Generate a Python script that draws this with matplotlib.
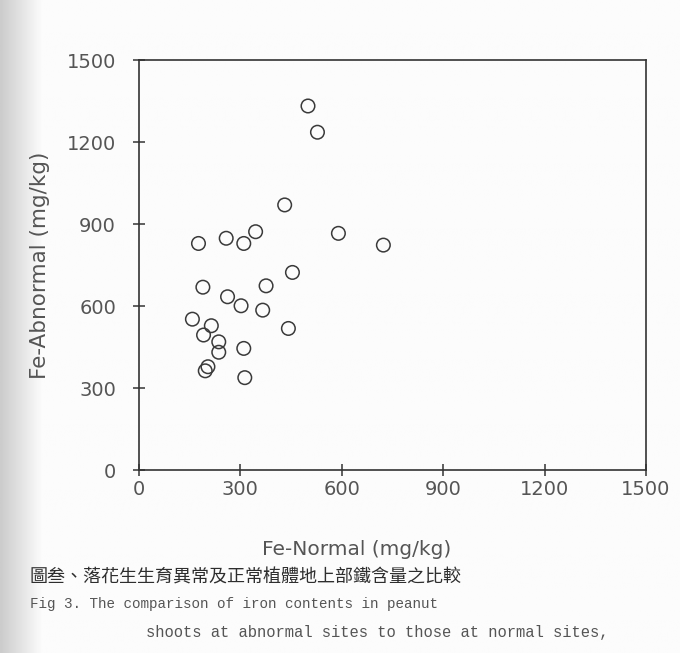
import numpy as np
import matplotlib
matplotlib.use("Agg")
import matplotlib.pyplot as plt

# Fe content of peanut shoots (mg/kg)
fe_normal = [500, 528, 431, 345, 590, 176, 258, 310, 723, 454, 189, 376, 262,
             302, 366, 158, 214, 191, 442, 236, 236, 310, 204, 196, 313]
fe_abnormal = [1332, 1236, 970, 872, 866, 829, 848, 829, 823, 723, 669, 674, 634,
               601, 585, 552, 528, 494, 518, 469, 431, 445, 378, 363, 338]

ticks = [0, 300, 600, 900, 1200, 1500]

caption_zh = "圖叁、落花生生育異常及正常植體地上部鐵含量之比較"
caption_en1 = "Fig 3. The comparison of iron contents in peanut"
caption_en2 = "shoots at abnormal sites to those at normal sites,"

fig = plt.figure(figsize=(6.8, 6.53), dpi=100)
fig.patch.set_facecolor("#fbfbfa")

# scanned page look: a grey shade on the left margin
bg = fig.add_axes([0, 0, 1, 1], zorder=-10)
grad = np.linspace(0, 1, 300)
shade = np.clip(grad / 0.06, 0, 1)
img = np.tile(0.80 + 0.185 * shade, (10, 1))
bg.imshow(img, cmap="gray", vmin=0, vmax=1, aspect="auto", extent=[0, 1, 0, 1])
bg.axis("off")

ax = fig.add_axes([0.2044, 0.2802, 0.7456, 0.6278])
ax.patch.set_alpha(0)
ax.scatter(fe_normal, fe_abnormal, s=95, facecolors="none", edgecolors="#3a3a3a",
           linewidths=1.1)

ax.set_xlim(0, 1500)
ax.set_ylim(0, 1500)
ax.set_xticks(ticks)
ax.set_yticks(ticks)
ax.tick_params(direction="inout", length=9, width=1.2, colors="#444444",
               labelsize=14, labelcolor="#555555")
ax.tick_params(axis="x", pad=3)
ax.tick_params(axis="y", pad=12)
for s in ax.spines.values():
    s.set_color("#333333")
    s.set_linewidth(1.2)

ax.set_xlabel("Fe-Normal (mg/kg)", fontsize=14.5, color="#555555")
ax.xaxis.set_label_coords(0.43, -0.17)
ax.set_ylabel("Fe-Abnormal (mg/kg)", fontsize=15.5, color="#555555")
ax.yaxis.set_label_coords(-0.175, 0.5)

fig.text(0.044, 0.116, caption_zh, fontsize=13, color="#2e2e2e",
         family=["Noto Sans CJK TC", "DejaVu Sans"], va="center")
fig.text(0.044, 0.075, caption_en1, fontsize=10.3, color="#555555",
         family="Liberation Mono", va="center")
fig.text(0.215, 0.032, caption_en2, fontsize=11.2, color="#555555",
         family="Liberation Mono", va="center")

fig.savefig("out.png", dpi=100)
